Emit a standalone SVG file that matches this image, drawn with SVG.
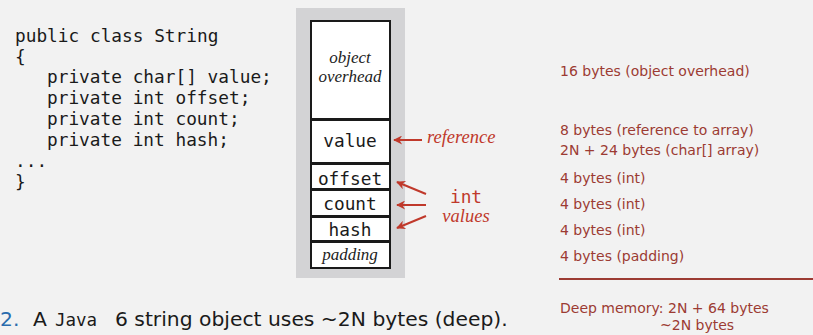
<svg xmlns="http://www.w3.org/2000/svg" width="813" height="335" viewBox="0 0 813 335">
<style>
.code{font-family:"DejaVu Sans Mono","Liberation Mono",monospace;font-size:17.8px;fill:#1a1a1a}
.mono{font-family:"DejaVu Sans Mono","Liberation Mono",monospace;font-size:17.8px;fill:#1a1a1a}
.it{font-family:"Liberation Serif",serif;font-style:italic;font-size:17px;fill:#222}
.box{fill:#fff;stroke:#1a1a1a;stroke-width:2}
.note{font-family:"DejaVu Sans","Open Sans",sans-serif;font-size:14px;fill:#9c3b33}
.red{fill:#c0392b}
.redi{font-family:"Liberation Serif",serif;font-style:italic;font-size:18.5px;fill:#c0392b}
.arr{stroke:#c0392b;stroke-width:2;fill:none;marker-end:url(#ah)}
</style>
<defs>
<marker id="ah" viewBox="0 0 10 10" refX="9" refY="5" markerWidth="11" markerHeight="9" orient="auto" markerUnits="userSpaceOnUse">
<path d="M0,0 L10,5 L0,10 L3,5 Z" fill="#c0392b"/>
</marker>
</defs>
<rect width="813" height="335" fill="#f2f2f2"/>
<g id="code">
<text class="code" x="15" y="42">public class String</text>
<text class="code" x="15" y="63">{</text>
<text class="code" x="47" y="83">private char[] value;</text>
<text class="code" x="47" y="104">private int offset;</text>
<text class="code" x="47" y="125">private int count;</text>
<text class="code" x="47" y="146">private int hash;</text>
<text class="code" x="15" y="167">...</text>
<text class="code" x="15" y="188">}</text>
</g>
<rect x="296" y="8" width="109" height="270" fill="#d3d3d5"/>
<g id="overhead">
<rect class="box" x="311" y="21" width="79" height="98"/>
<text class="it" x="350" y="63" text-anchor="middle">object</text>
<text class="it" x="350" y="82" text-anchor="middle">overhead</text>
</g>
<g id="value">
<rect class="box" x="311" y="120" width="79" height="43"/>
<text class="mono" x="350" y="147" text-anchor="middle">value</text>
</g>
<g id="offset">
<rect class="box" x="311" y="164" width="79" height="25"/>
<text class="mono" x="350" y="185" text-anchor="middle">offset</text>
</g>
<g id="count">
<rect class="box" x="311" y="190" width="79" height="26"/>
<text class="mono" x="350" y="210" text-anchor="middle">count</text>
</g>
<g id="hash">
<rect class="box" x="311" y="217" width="79" height="24"/>
<text class="mono" x="350" y="236" text-anchor="middle">hash</text>
</g>
<g id="padding">
<rect class="box" x="311" y="242" width="79" height="26"/>
<text class="it" x="350" y="260" text-anchor="middle">padding</text>
</g>
<g id="connectors">
<line class="arr" x1="422" y1="140" x2="394" y2="140"/>
<line class="arr" x1="426" y1="194" x2="397" y2="182"/>
<line class="arr" x1="426" y1="205" x2="397" y2="205"/>
<line class="arr" x1="426" y1="216" x2="397" y2="228"/>
</g>
<g id="labels">
<text class="redi" x="427" y="143">reference</text>
<text class="mono red" x="466" y="203" text-anchor="middle">int</text>
<text class="redi" x="466" y="222" text-anchor="middle">values</text>
</g>
<g id="notes">
<text class="note" x="560" y="76">16 bytes (object overhead)</text>
<text class="note" x="560" y="135">8 bytes (reference to array)</text>
<text class="note" x="560" y="155">2N + 24 bytes (char[] array)</text>
<text class="note" x="560" y="183">4 bytes (int)</text>
<text class="note" x="560" y="209">4 bytes (int)</text>
<text class="note" x="560" y="235">4 bytes (int)</text>
<text class="note" x="560" y="261">4 bytes (padding)</text>
<line x1="559" y1="279" x2="813" y2="279" stroke="#9c3b33" stroke-width="2"/>
<text class="note" x="560" y="313">Deep memory: 2N + 64 bytes</text>
<text class="note" x="660" y="330">~2N bytes</text>
</g>
<g id="caption" font-family="'DejaVu Sans','Open Sans',sans-serif" font-size="20.3px" fill="#1a1a1a">
<text x="0" y="326"><tspan fill="#2a6cad">2.</tspan><tspan x="33">A</tspan><tspan x="55" font-family="'DejaVu Sans Mono',monospace" font-size="17.5px">Java</tspan><tspan x="115">6 string object uses ~2N bytes (deep).</tspan></text>
</g>
</svg>
